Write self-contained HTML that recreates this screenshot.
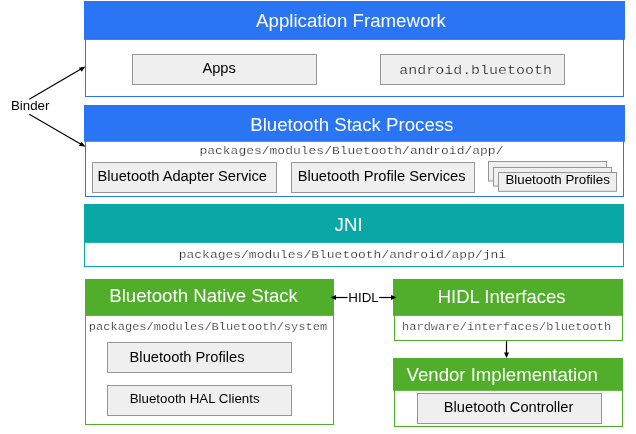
<!DOCTYPE html>
<html>
<head>
<meta charset="utf-8">
<title>Bluetooth architecture</title>
<style>
html,body{margin:0;padding:0;background:#fff;}
body{width:636px;height:434px;overflow:hidden;}
svg{display:block;will-change:transform;opacity:0.999;}
text{font-family:"Liberation Sans",sans-serif;}
.t{font-size:18.67px;fill:#fff;}
.l{font-size:14.67px;fill:#000;}
.s{font-size:13.33px;fill:#000;}
.m{font-family:"Liberation Mono",monospace;fill:#151515;stroke:#fff;stroke-width:0.28px;}
.mg{stroke:#efefef;}
.g{fill:#efefef;stroke:#969696;stroke-width:1;}
</style>
</head>
<body>
<svg width="636" height="434" viewBox="0 0 636 434">
<rect x="0" y="0" width="636" height="434" fill="#ffffff"/>

<!-- Application Framework -->
<rect x="85.5" y="39" width="538" height="57.5" fill="#fff" stroke="#2a75f3" stroke-width="1"/>
<rect x="84" y="1" width="541" height="38.8" fill="#2a75f3"/>
<text class="t" x="256.1" y="26.5">Application Framework</text>
<rect class="g" x="132.5" y="54.5" width="184" height="30"/>
<text class="l" x="202.4" y="73.4">Apps</text>
<rect class="g" x="380.5" y="54.5" width="184" height="30"/>
<text class="m mg" transform="translate(399.2 74.2) scale(1 0.83)" font-size="15">android.bluetooth</text>

<!-- Bluetooth Stack Process -->
<rect x="85.5" y="140" width="538" height="56.5" fill="#fff" stroke="#2a75f3" stroke-width="1"/>
<rect x="84" y="105" width="541" height="36.8" fill="#2a75f3"/>
<text class="t" x="250.2" y="130.5">Bluetooth Stack Process</text>
<text class="m" transform="translate(199.4 154.1) scale(1 0.83)" font-size="13.0">packages/modules/Bluetooth/android/app/</text>
<rect class="g" x="92.5" y="162.5" width="184" height="30"/>
<text class="l" x="97.5" y="180.8">Bluetooth Adapter Service</text>
<rect class="g" x="291.5" y="162.5" width="183" height="30"/>
<text class="l" x="297.7" y="180.8">Bluetooth Profile Services</text>
<rect class="g" x="488.5" y="161.5" width="118" height="19.5"/>
<rect class="g" x="493.5" y="167.5" width="118" height="18.6"/>
<rect class="g" x="498.5" y="172.5" width="118" height="18.8"/>
<text class="s" x="505.4" y="184.2">Bluetooth Profiles</text>

<!-- JNI -->
<rect x="84.5" y="242" width="539" height="24.5" fill="#fff" stroke="#0aa7a7" stroke-width="1"/>
<rect x="84" y="204" width="540" height="38.8" fill="#0aa7a7"/>
<text class="t" x="334.6" y="230.9">JNI</text>
<text class="m" transform="translate(178.7 258.0) scale(1 0.83)" font-size="13.0">packages/modules/Bluetooth/android/app/jni</text>

<!-- Bluetooth Native Stack -->
<rect x="85.5" y="315" width="248" height="109.5" fill="#fff" stroke="#51ae2a" stroke-width="1"/>
<rect x="85" y="279" width="249" height="36.8" fill="#51ae2a"/>
<text class="t" x="109.2" y="302.3">Bluetooth Native Stack</text>
<text class="m" transform="translate(88.8 330.3) scale(1 0.83)" font-size="12.05">packages/modules/Bluetooth/system</text>
<rect class="g" x="107.5" y="342.5" width="184" height="30"/>
<text class="l" x="129.6" y="361.6">Bluetooth Profiles</text>
<rect class="g" x="107.5" y="385.5" width="184" height="30"/>
<text class="s" x="129.7" y="403.2">Bluetooth HAL Clients</text>

<!-- HIDL Interfaces -->
<rect x="394.5" y="315" width="228" height="25.5" fill="#fff" stroke="#51ae2a" stroke-width="1"/>
<rect x="393" y="279" width="230" height="36.8" fill="#51ae2a"/>
<text class="t" x="437.7" y="303" style="font-size:18.5px">HIDL Interfaces</text>
<text class="m" transform="translate(402.0 330.3) scale(1 0.83)" font-size="12.04">hardware/interfaces/bluetooth</text>

<!-- Vendor Implementation -->
<rect x="394.5" y="390" width="228" height="36.5" fill="#fff" stroke="#51ae2a" stroke-width="1"/>
<rect x="393" y="358" width="230" height="32.7" fill="#51ae2a"/>
<text class="t" x="406.6" y="380.6" style="font-size:18.6px">Vendor Implementation</text>
<rect class="g" x="417.5" y="393.5" width="184" height="30"/>
<text class="l" x="443.8" y="411.5">Bluetooth Controller</text>

<!-- Binder arrows -->
<text class="s" x="10.9" y="109.9">Binder</text>
<g stroke="#000" stroke-width="1.2" fill="#000">
<line x1="29.3" y1="99.3" x2="81" y2="69.1"/>
<path d="M85.5 66.6 L81.7 71.7 L78.9 67.7 Z" stroke="none"/>
<line x1="29.3" y1="114.3" x2="81" y2="144.2"/>
<path d="M85.6 146.8 L78.9 145.8 L81.6 141.9 Z" stroke="none"/>
</g>

<!-- HIDL arrow -->
<text class="s" x="348.3" y="301.8">HIDL</text>
<g stroke="#000" stroke-width="1.2" fill="#000">
<line x1="335" y1="297.5" x2="347.6" y2="297.5"/>
<path d="M330.5 297.5 L336 295 L336 300 Z" stroke="none"/>
<line x1="379.2" y1="297.5" x2="392" y2="297.5"/>
<path d="M396.5 297.5 L391 295 L391 300 Z" stroke="none"/>
<line x1="506.5" y1="341" x2="506.5" y2="354"/>
<path d="M506.5 357.9 L504 352.6 L509 352.6 Z" stroke="none"/>
</g>
</svg>
</body>
</html>
